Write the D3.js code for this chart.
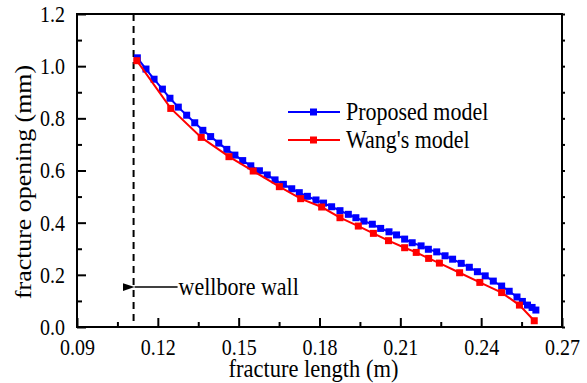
<!DOCTYPE html>
<html>
<head>
<meta charset="utf-8">
<script src="https://cdn.jsdelivr.net/npm/d3@7"></script>
<style>
  body { margin: 0; background: #fff; }
  text { font-family: "Liberation Serif", "Times New Roman", serif; fill: #000; }
</style>
</head>
<body>
<svg id="chart" width="587" height="383"></svg>
<script>
// proposed model (blue)
const proposedX = [0.1124, 0.1156, 0.1186, 0.1217, 0.1245, 0.1276, 0.1307, 0.1337, 0.1367, 0.1396,
  0.1426, 0.1456, 0.1486, 0.1515, 0.1545, 0.1577, 0.1606, 0.1635, 0.1666, 0.1697,
  0.1725, 0.1755, 0.1787, 0.1815, 0.1845, 0.1876, 0.1907, 0.1935, 0.1965, 0.1996,
  0.2027, 0.2058, 0.2086, 0.2116, 0.2144, 0.2177, 0.2204, 0.2235, 0.2266, 0.2294,
  0.2326, 0.2356, 0.2386, 0.2415, 0.2445, 0.2476, 0.2504, 0.2533, 0.2553, 0.2572,
  0.2589, 0.2603];
const proposedY = [1.032, 0.989, 0.950, 0.912, 0.877, 0.843, 0.812, 0.783, 0.754, 0.730,
  0.705, 0.681, 0.659, 0.638, 0.618, 0.599, 0.583, 0.564, 0.547, 0.530,
  0.515, 0.501, 0.487, 0.475, 0.461, 0.446, 0.432, 0.419, 0.406, 0.394,
  0.378, 0.365, 0.353, 0.337, 0.323, 0.311, 0.298, 0.288, 0.273, 0.260,
  0.244, 0.229, 0.212, 0.196, 0.176, 0.157, 0.137, 0.115, 0.098, 0.084,
  0.075, 0.065];

// Wang's model (red)
const wangX = [0.1122, 0.1248, 0.1361, 0.1464, 0.1554, 0.1651, 0.1730, 0.1808, 0.1876, 0.1944,
  0.2000, 0.2056, 0.2116, 0.2159, 0.2205, 0.2245, 0.2320, 0.2395, 0.2476, 0.2542, 0.2597];
const wangY = [1.021, 0.838, 0.727, 0.653, 0.598, 0.538, 0.492, 0.460, 0.419, 0.387,
  0.359, 0.331, 0.304, 0.286, 0.263, 0.245, 0.208, 0.171, 0.132, 0.084, 0.024];

const seriesNames = ["Proposed model", "Wang's model"];
const seriesColors = ["#0000ff", "#ff0000"];

const xTicks = [0.09, 0.12, 0.15, 0.18, 0.21, 0.24, 0.27];
const xMinorTicks = [0.105, 0.135, 0.165, 0.195, 0.225, 0.255];
const yTicks = [0.0, 0.2, 0.4, 0.6, 0.8, 1.0, 1.2];
const yMinorTicks = [0.1, 0.3, 0.5, 0.7, 0.9, 1.1];

const wellboreX = 0.111;
const wellboreLabel = "wellbore wall";
const wellboreArrowY = 0.153;

const xTitle = "fracture length (m)";
const yTitle = "fracture opening (mm)";

const svg = d3.select("#chart"),
      width = +svg.attr("width"),
      height = +svg.attr("height"),
      margin = { top: 14, right: 25, bottom: 56, left: 77 };

// the original figure's text is a bit taller than wide
const stretch = 1.15;

const x = d3.scaleLinear().domain([0.09, 0.27]).range([margin.left, width - margin.right]);
const y = d3.scaleLinear().domain([0, 1.2]).range([height - margin.bottom, margin.top]);

const toPoints = (xs, ys) => xs.map((v, i) => [v, ys[i]]);
const series = [toPoints(proposedX, proposedY), toPoints(wangX, wangY)];

// wellbore dashed line
svg.append("line")
   .attr("x1", x(wellboreX)).attr("x2", x(wellboreX))
   .attr("y1", y(1.2)).attr("y2", y(0))
   .attr("stroke", "#000")
   .attr("stroke-width", 2)
   .attr("stroke-dasharray", "7,5");

// series
const line = d3.line().x(d => x(d[0])).y(d => y(d[1]));
series.forEach((pts, i) => {
  const g = svg.append("g");
  g.append("path")
   .attr("d", line(pts))
   .attr("fill", "none")
   .attr("stroke", seriesColors[i])
   .attr("stroke-width", 2);
  g.selectAll("rect")
   .data(pts)
   .enter().append("rect")
   .attr("x", d => x(d[0]) - 3.5)
   .attr("y", d => y(d[1]) - 3.5)
   .attr("width", 7)
   .attr("height", 7)
   .attr("fill", seriesColors[i]);
});

// axes
const fmtX = d3.format(".2f"), fmtY = d3.format(".1f");
const bottom = height - margin.bottom;

svg.append("g")
   .attr("transform", `translate(0,${bottom})`)
   .call(d3.axisBottom(x).tickValues(xTicks).tickFormat(fmtX).tickSize(-9))
   .selectAll("text")
   .attr("y", 0).attr("dy", null)
   .attr("transform", `translate(0,28) scale(1,${stretch})`);
svg.append("g")
   .attr("transform", `translate(0,${bottom})`)
   .call(d3.axisBottom(x).tickValues(xMinorTicks).tickFormat("").tickSize(-5));

svg.append("g")
   .attr("transform", `translate(${margin.left},0)`)
   .call(d3.axisLeft(y).tickValues(yTicks).tickFormat(fmtY).tickSize(-9))
   .selectAll("text")
   .attr("x", 0)
   .attr("transform", `translate(-12,0) scale(1,${stretch})`);
svg.append("g")
   .attr("transform", `translate(${margin.left},0)`)
   .call(d3.axisLeft(y).tickValues(yMinorTicks).tickFormat("").tickSize(-5));

// right axis: short outward ticks
svg.append("g")
   .attr("transform", `translate(${width - margin.right},0)`)
   .call(d3.axisRight(y).tickValues(yTicks.concat(yMinorTicks)).tickFormat("").tickSize(3));

svg.selectAll(".domain").remove();
svg.selectAll(".tick line").attr("stroke", "#000").attr("stroke-width", 2);
svg.selectAll(".tick text").attr("font-size", "20px");

// frame
svg.append("rect")
   .attr("x", margin.left).attr("y", margin.top)
   .attr("width", width - margin.left - margin.right)
   .attr("height", height - margin.top - margin.bottom)
   .attr("fill", "none")
   .attr("stroke", "#000")
   .attr("stroke-width", 2);

// axis titles
svg.append("text")
   .attr("transform", `translate(${(margin.left + width - margin.right) / 2 - 6},377) scale(1,${stretch})`)
   .attr("text-anchor", "middle")
   .attr("font-size", "22.5px")
   .text(xTitle);

svg.append("text")
   .attr("transform", `translate(31,182) scale(1,${stretch}) rotate(-90)`)
   .attr("text-anchor", "middle")
   .attr("font-size", "22.5px")
   .text(yTitle);

// legend
const legend = svg.append("g").attr("transform", "translate(288,112)");
seriesNames.forEach((name, i) => {
  const row = legend.append("g").attr("transform", `translate(0,${i * 28})`);
  row.append("line").attr("x1", 0).attr("x2", 52)
     .attr("stroke", seriesColors[i]).attr("stroke-width", 2);
  row.append("rect").attr("x", 22).attr("y", -3.5).attr("width", 7).attr("height", 7)
     .attr("fill", seriesColors[i]);
  row.append("text")
     .attr("transform", `translate(58,0) scale(1,${stretch})`)
     .attr("dy", "0.33em")
     .attr("font-size", "22px").text(name);
});

// wellbore annotation
svg.append("defs").append("marker")
   .attr("id", "arrow")
   .attr("viewBox", "0 0 12 8")
   .attr("refX", 0).attr("refY", 4)
   .attr("markerWidth", 12).attr("markerHeight", 8)
   .attr("markerUnits", "userSpaceOnUse")
   .attr("orient", "auto-start-reverse")
   .append("path").attr("d", "M0,4L12,0L12,8Z").attr("fill", "#000");

svg.append("line")
   .attr("x1", x(wellboreX) + 1).attr("x2", x(wellboreX) + 44)
   .attr("y1", y(wellboreArrowY)).attr("y2", y(wellboreArrowY))
   .attr("stroke", "#000").attr("stroke-width", 1.5)
   .attr("marker-start", "url(#arrow)");

svg.append("text")
   .attr("transform", `translate(${x(wellboreX) + 45},${y(wellboreArrowY)}) scale(1,${stretch})`)
   .attr("dy", "0.3em")
   .attr("font-size", "22px")
   .text(wellboreLabel);
</script>
</body>
</html>
